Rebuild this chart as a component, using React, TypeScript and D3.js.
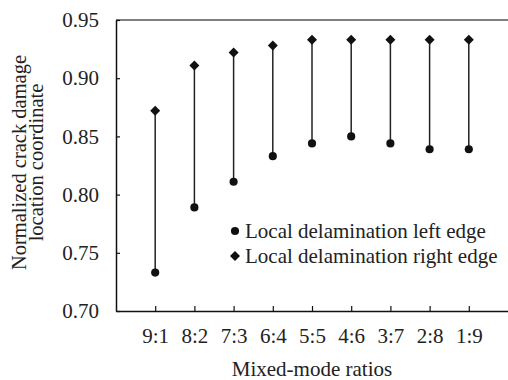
import React, { useEffect, useRef } from 'react';
import * as d3 from 'd3';

const ratios = ['9:1', '8:2', '7:3', '6:4', '5:5', '4:6', '3:7', '2:8', '1:9'];
const leftEdge = [0.733, 0.789, 0.811, 0.833, 0.844, 0.85, 0.844, 0.839, 0.839];
const rightEdge = [0.872, 0.911, 0.922, 0.928, 0.933, 0.933, 0.933, 0.933, 0.933];
const yTicks = [0.7, 0.75, 0.8, 0.85, 0.9, 0.95];

export default function App() {
  const ref = useRef<SVGSVGElement | null>(null);

  useEffect(() => {
    if (!ref.current) return;
    const width = 508;
    const height = 380;
    const margin = { top: 20, right: 0, bottom: 69, left: 116 };
    const innerWidth = width - margin.left - margin.right;
    const innerHeight = height - margin.top - margin.bottom;
    const font = '"Liberation Serif", "Times New Roman", serif';
    const fs = 21;

    const svg = d3.select(ref.current);
    svg.selectAll('*').remove();
    svg.attr('width', width).attr('height', height).style('font-family', font);

    const g = svg.append('g').attr('transform', `translate(${margin.left},${margin.top})`);

    const x = d3.scalePoint<string>().domain(ratios).range([0, innerWidth]).padding(1);
    const y = d3.scaleLinear().domain([0.7, 0.95]).range([innerHeight, 0]);

    // top border
    g.append('line')
      .attr('x1', 0).attr('x2', innerWidth)
      .attr('y1', 0).attr('y2', 0)
      .attr('stroke', '#555').attr('stroke-width', 1.5);

    // y axis, ticks pointing inward
    const yAxis = g.append('g').call(
      d3.axisLeft(y).tickValues(yTicks).tickSizeInner(-4).tickSizeOuter(0).tickPadding(17)
        .tickFormat(d => d3.format('.2f')(Number(d)))
    );
    yAxis.select('.domain').attr('stroke', '#111').attr('stroke-width', 1.5);
    yAxis.selectAll('.tick line').attr('stroke', '#111').attr('stroke-width', 1.2);
    yAxis.selectAll('text').attr('font-size', fs).attr('font-family', font).attr('fill', '#222');

    // x axis, ticks pointing inward
    const xAxis = g.append('g').attr('transform', `translate(0,${innerHeight})`).call(
      d3.axisBottom(x).tickSizeInner(-5).tickSizeOuter(0).tickPadding(17)
    );
    xAxis.select('.domain').attr('stroke', '#111').attr('stroke-width', 1.5);
    xAxis.selectAll('.tick line').attr('stroke', '#111').attr('stroke-width', 1.2);
    xAxis.selectAll('text').attr('font-size', fs).attr('font-family', font).attr('fill', '#222');

    // vertical range lines
    g.selectAll('.range')
      .data(ratios)
      .enter()
      .append('line')
      .attr('class', 'range')
      .attr('x1', d => x(d)!).attr('x2', d => x(d)!)
      .attr('y1', (_, i) => y(leftEdge[i]))
      .attr('y2', (_, i) => y(rightEdge[i]))
      .attr('stroke', '#222').attr('stroke-width', 1.5);

    const circle = d3.symbol().type(d3.symbolCircle).size(52);
    const diamond = d3.symbol().type(d3.symbolSquare).size(50);

    g.selectAll('.left-pt')
      .data(ratios)
      .enter()
      .append('path')
      .attr('class', 'left-pt')
      .attr('d', circle()!)
      .attr('transform', (d, i) => `translate(${x(d)},${y(leftEdge[i])})`)
      .attr('fill', '#111');

    g.selectAll('.right-pt')
      .data(ratios)
      .enter()
      .append('path')
      .attr('class', 'right-pt')
      .attr('d', diamond()!)
      .attr('transform', (d, i) => `translate(${x(d)},${y(rightEdge[i])}) rotate(45)`)
      .attr('fill', '#111');

    // legend
    const legend = svg.append('g').attr('transform', 'translate(235,231)');
    const items = [
      { label: 'Local delamination left edge', sym: circle()!, rot: 0 },
      { label: 'Local delamination right edge', sym: diamond()!, rot: 45 },
    ];
    const li = legend.selectAll('.li')
      .data(items)
      .enter()
      .append('g')
      .attr('transform', (_, i) => `translate(0,${i * 25})`);
    li.append('path')
      .attr('d', d => d.sym)
      .attr('transform', d => `rotate(${d.rot})`)
      .attr('fill', '#111');
    li.append('text')
      .attr('x', 10)
      .attr('y', 6.5)
      .attr('font-size', fs)
      .attr('fill', '#222')
      .text(d => d.label);

    // axis titles
    svg.append('text')
      .attr('x', margin.left + innerWidth / 2)
      .attr('y', 376)
      .attr('text-anchor', 'middle')
      .attr('font-size', fs)
      .attr('fill', '#222')
      .text('Mixed-mode ratios');

    const yTitle = svg.append('text')
      .attr('transform', `translate(0,${margin.top + innerHeight / 2 - 3}) rotate(-90)`)
      .attr('text-anchor', 'middle')
      .attr('font-size', 20.5)
      .attr('fill', '#222');
    yTitle.append('tspan').attr('x', 0).attr('y', 26).text('Normalized crack damage');
    yTitle.append('tspan').attr('x', 0).attr('y', 43).text('location coordinate');
  }, []);

  return <svg ref={ref} style={{ position: 'absolute', left: 0, top: 0 }}></svg>;
}
